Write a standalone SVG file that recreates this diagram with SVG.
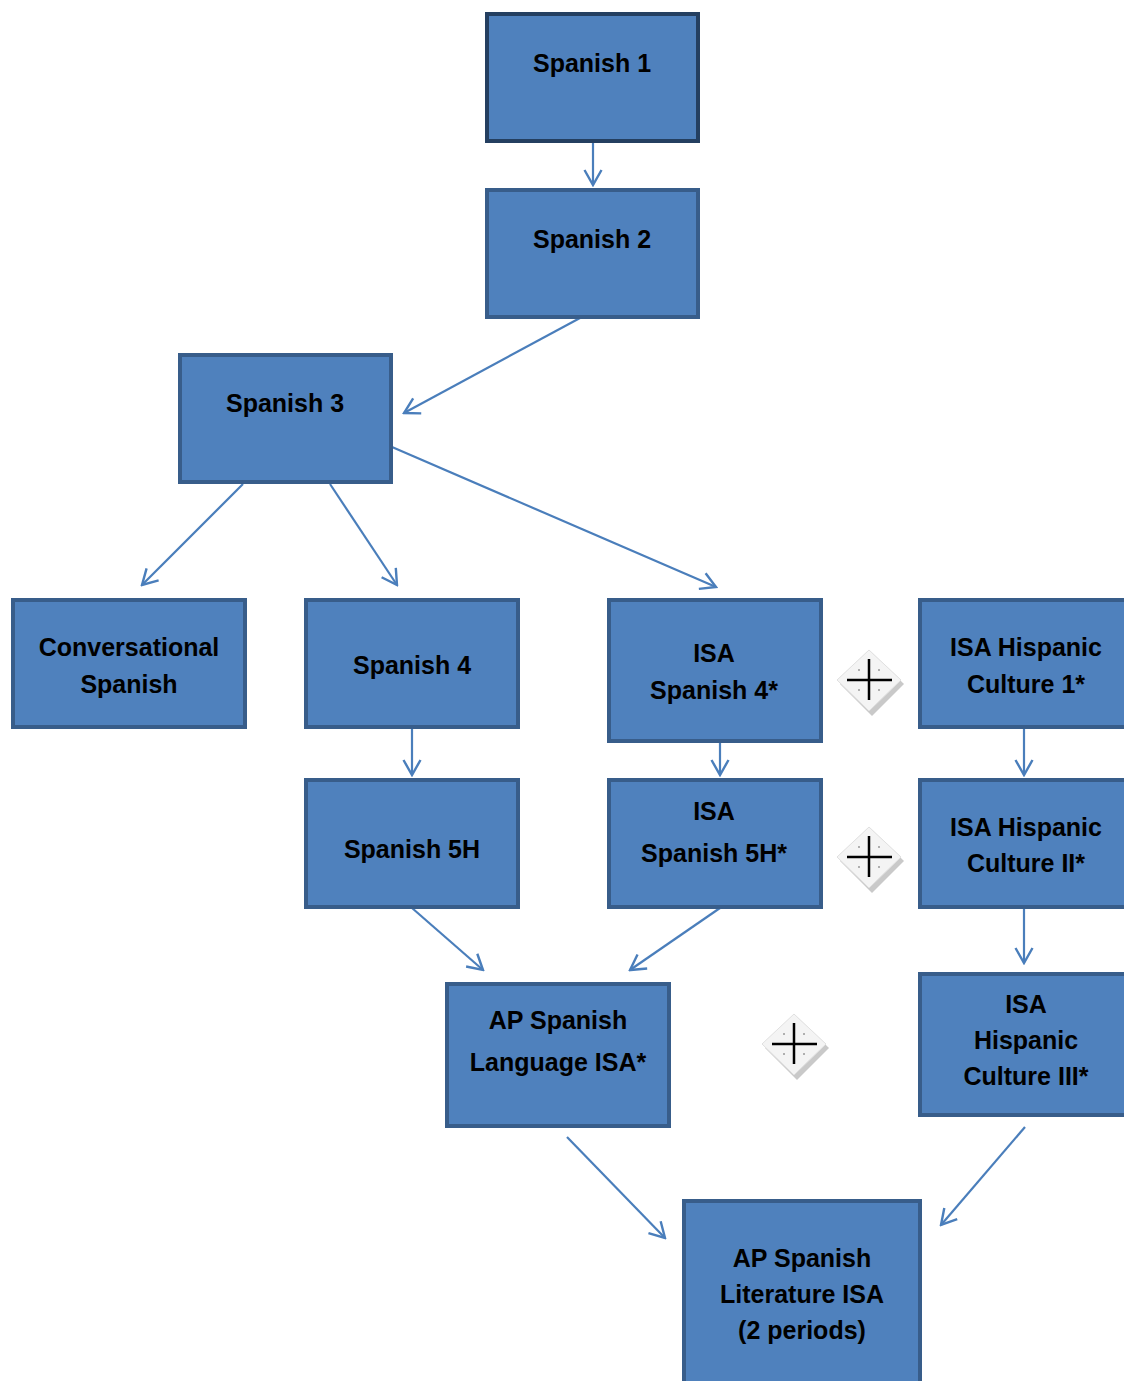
<svg xmlns="http://www.w3.org/2000/svg" width="1124" height="1381" viewBox="0 0 1124 1381">
<style>
.box{fill:#4F81BD;stroke:#385D8A;stroke-width:4}
.dark{stroke:#243F60}
.t{font-family:"Liberation Sans",Arial,sans-serif;font-weight:bold;font-size:25px;fill:#000;text-anchor:middle}
.c{fill:none;stroke:#4A7EBB;stroke-width:2.2}
</style>
<defs>
<marker id="ah" viewBox="0 0 20 20" refX="18" refY="10" markerWidth="20" markerHeight="20" markerUnits="userSpaceOnUse" orient="auto">
<path d="M3,1.5 L18,10 L3,18.5" fill="none" stroke="#4A7EBB" stroke-width="2.4"/>
</marker>
<g id="plus">
<polygon points="3,-27 35,4 3,36 -29,4" fill="#c9c9c9"/>
<polygon points="0,-30 32,0 0,31 -32,0" fill="#f4f4f4" stroke="#e0e0e0" stroke-width="1"/>
<circle cx="-10" cy="-10" r="1" fill="#999"/>
<circle cx="10" cy="-10" r="1" fill="#999"/>
<circle cx="-10" cy="10" r="1" fill="#999"/>
<circle cx="10" cy="10" r="1" fill="#999"/>
<path d="M-22,0 H23 M0,-21 V20" stroke="#000" stroke-width="2.5"/>
</g>
</defs>
<g id="connectors">
<line class="c" x1="593" y1="143" x2="593" y2="185" marker-end="url(#ah)"/>
<line class="c" x1="580" y1="318" x2="404" y2="413" marker-end="url(#ah)"/>
<line class="c" x1="243" y1="484" x2="142" y2="585" marker-end="url(#ah)"/>
<line class="c" x1="330" y1="484" x2="397" y2="585" marker-end="url(#ah)"/>
<line class="c" x1="392" y1="447" x2="716" y2="587" marker-end="url(#ah)"/>
<line class="c" x1="412" y1="718" x2="412" y2="775" marker-end="url(#ah)"/>
<line class="c" x1="720" y1="742" x2="720" y2="775" marker-end="url(#ah)"/>
<line class="c" x1="1024" y1="729" x2="1024" y2="775" marker-end="url(#ah)"/>
<line class="c" x1="412" y1="908" x2="483" y2="970" marker-end="url(#ah)"/>
<line class="c" x1="720" y1="908" x2="630" y2="970" marker-end="url(#ah)"/>
<line class="c" x1="1024" y1="908" x2="1024" y2="963" marker-end="url(#ah)"/>
<line class="c" x1="567" y1="1137" x2="665" y2="1238" marker-end="url(#ah)"/>
<line class="c" x1="1025" y1="1127" x2="941" y2="1225" marker-end="url(#ah)"/>
</g>
<g id="spanish1"><rect class="box dark" x="487" y="14" width="211" height="127"/><text class="t" x="592" y="72">Spanish 1</text></g>
<g id="spanish2"><rect class="box" x="487" y="190" width="211" height="127"/><text class="t" x="592" y="248">Spanish 2</text></g>
<g id="spanish3"><rect class="box" x="180" y="355" width="211" height="127"/><text class="t" x="285" y="412">Spanish 3</text></g>
<g id="conversational"><rect class="box" x="13" y="600" width="232" height="127"/><text class="t" x="129" y="656">Conversational</text><text class="t" x="129" y="693">Spanish</text></g>
<g id="spanish4"><rect class="box" x="306" y="600" width="212" height="127"/><text class="t" x="412" y="674">Spanish 4</text></g>
<g id="isa-spanish4"><rect class="box" x="609" y="600" width="212" height="141"/><text class="t" x="714" y="662">ISA</text><text class="t" x="714" y="699">Spanish 4*</text></g>
<g id="isa-culture1"><rect class="box" x="920" y="600" width="210" height="127"/><text class="t" x="1026" y="656">ISA Hispanic</text><text class="t" x="1026" y="693">Culture 1*</text></g>
<g id="spanish5h"><rect class="box" x="306" y="780" width="212" height="127"/><text class="t" x="412" y="858">Spanish 5H</text></g>
<g id="isa-spanish5h"><rect class="box" x="609" y="780" width="212" height="127"/><text class="t" x="714" y="820">ISA</text><text class="t" x="714" y="862">Spanish 5H*</text></g>
<g id="isa-culture2"><rect class="box" x="920" y="780" width="210" height="127"/><text class="t" x="1026" y="836">ISA Hispanic</text><text class="t" x="1026" y="872">Culture II*</text></g>
<g id="ap-language"><rect class="box" x="447" y="984" width="222" height="142"/><text class="t" x="558" y="1029">AP Spanish</text><text class="t" x="558" y="1071">Language ISA*</text></g>
<g id="isa-culture3"><rect class="box" x="920" y="974" width="210" height="141"/><text class="t" x="1026" y="1013">ISA</text><text class="t" x="1026" y="1049">Hispanic</text><text class="t" x="1026" y="1085">Culture III*</text></g>
<g id="ap-literature"><rect class="box" x="684" y="1201" width="236" height="190"/><text class="t" x="802" y="1267">AP Spanish</text><text class="t" x="802" y="1303">Literature ISA</text><text class="t" x="802" y="1339">(2 periods)</text></g>
<g id="plus1"><use href="#plus" x="869" y="680"/></g>
<g id="plus2"><use href="#plus" x="869" y="857"/></g>
<g id="plus3"><use href="#plus" x="794" y="1044"/></g>
</svg>
